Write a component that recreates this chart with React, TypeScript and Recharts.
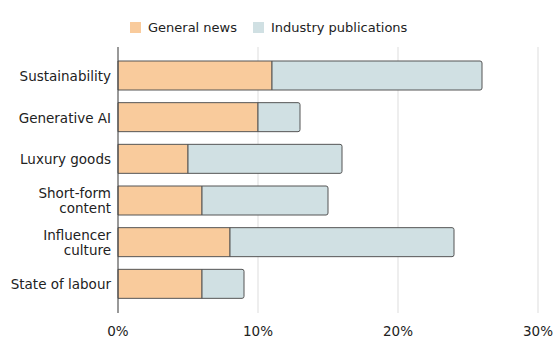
import { BarChart, Bar, XAxis, YAxis, CartesianGrid, Legend } from "recharts";

const topics = [
  "Sustainability",
  "Generative AI",
  "Luxury goods",
  "Short-form content",
  "Influencer culture",
  "State of labour",
];
const generalNews = [11, 10, 5, 6, 8, 6];
const industryPubs = [15, 3, 11, 9, 16, 3];
const xTicks = [0, 10, 20, 30];

const tickLines: Record<string, string[]> = {
  "Short-form content": ["Short-form", "content"],
  "Influencer culture": ["Influencer", "culture"],
};

const data = topics.map((topic, i) => ({
  topic,
  general: generalNews[i],
  industry: industryPubs[i],
}));

const FONT = "'DejaVu Sans', Verdana, sans-serif";

function TopicTick(props: any) {
  const { x, y, payload } = props;
  const lines = tickLines[payload.value] ?? [payload.value];
  const lh = 15;
  const tx = x + 1;
  return (
    <text x={tx} y={y} textAnchor="end" fill="#222" fontSize={13.5} fontFamily={FONT}>
      {lines.map((l, i) => (
        <tspan key={l} x={tx} dy={i === 0 ? -((lines.length - 1) * lh) / 2 + 5 : lh}>
          {l}
        </tspan>
      ))}
    </text>
  );
}

function LegendBox() {
  const items = [
    { label: "General news", color: "#f9cb9c" },
    { label: "Industry publications", color: "#d0e0e3" },
  ];
  return (
    <div style={{ display: "flex", alignItems: "center", fontFamily: FONT, fontSize: 13, color: "#222" }}>
      {items.map((it) => (
        <div key={it.label} style={{ display: "flex", alignItems: "center", marginRight: 16 }}>
          <span style={{ width: 11, height: 11, background: it.color, marginRight: 7, display: "inline-block" }} />
          <span>{it.label}</span>
        </div>
      ))}
    </div>
  );
}

export default function App() {
  return (
    <div style={{ position: "absolute", left: 0, top: 0 }}>
      <BarChart
        width={557}
        height={360}
        data={data}
        layout="vertical"
        margin={{ top: 47, right: 19, bottom: 17, left: 0 }}
      >
        <CartesianGrid horizontal={false} stroke="#dddddd" />
        <XAxis
          type="number"
          domain={[0, 30]}
          ticks={xTicks}
          tickFormatter={(v) => `${v}%`}
          axisLine={false}
          tickLine={false}
          tickMargin={7}
          height={30}
          tick={{ fontSize: 13.5, fill: "#222", fontFamily: FONT }}
        />
        <YAxis
          type="category"
          dataKey="topic"
          width={118}
          padding={{ top: 8, bottom: 8 }}
          axisLine={{ stroke: "#444" }}
          tickLine={false}
          tick={<TopicTick />}
          interval={0}
        />
        <Legend
          verticalAlign="middle"
          align="center"
          content={<LegendBox />}
          wrapperStyle={{ top: 20, left: 130, width: "auto", height: 16 }}
        />
        <Bar
          dataKey="general"
          stackId="a"
          name="General news"
          fill="#f9cb9c"
          stroke="#555"
          strokeWidth={1}
          barSize={29}
          isAnimationActive={false}
        />
        <Bar
          dataKey="industry"
          stackId="a"
          name="Industry publications"
          fill="#d0e0e3"
          stroke="#555"
          strokeWidth={1}
          barSize={29}
          radius={[0, 2, 2, 0]}
          isAnimationActive={false}
        />
      </BarChart>
    </div>
  );
}
